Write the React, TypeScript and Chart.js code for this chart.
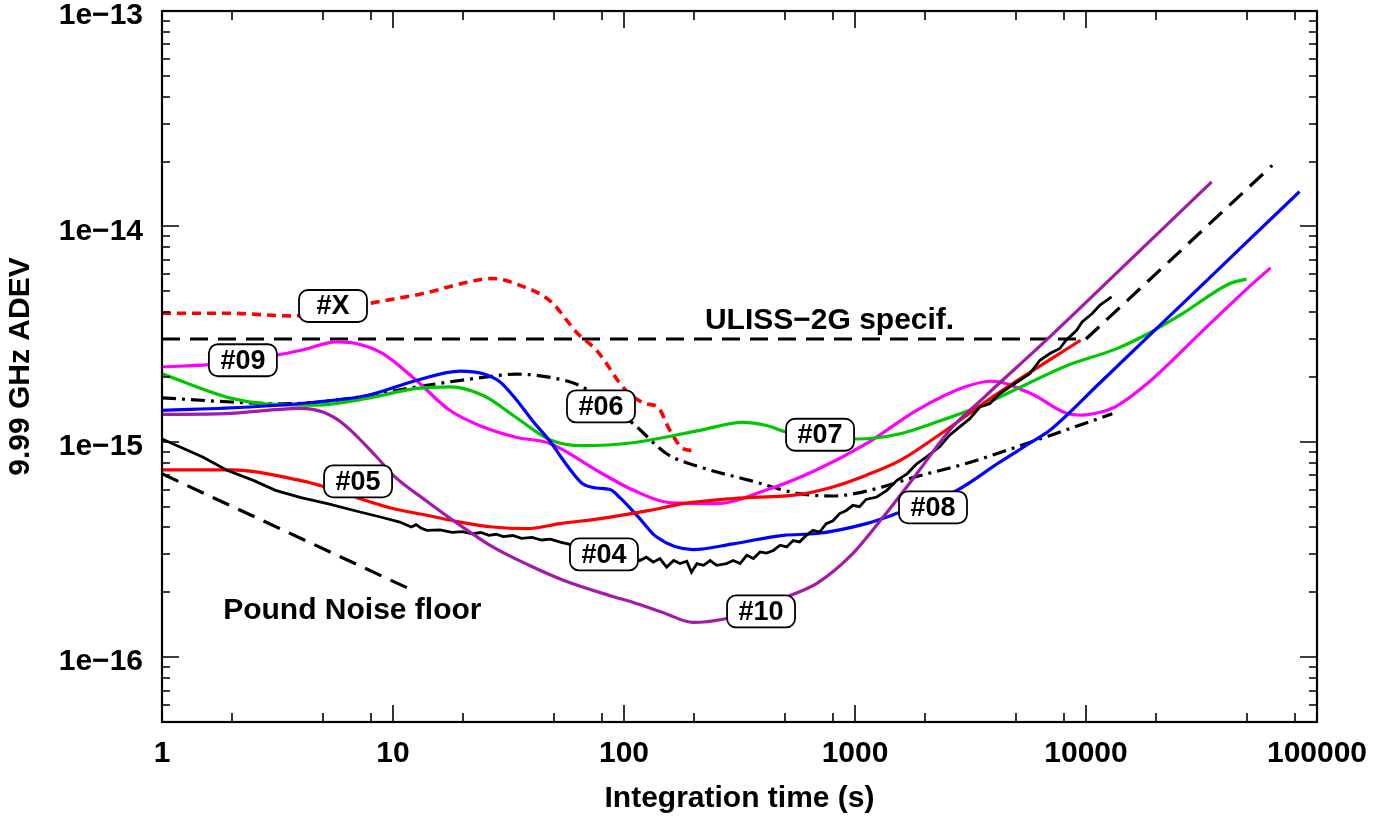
import React, { useEffect, useRef } from 'react';
import { Chart, registerables } from 'chart.js';
Chart.register(...registerables);

const FONT = '"Liberation Sans", Arial, Helvetica, sans-serif';

// axes
const xTickValues = [1, 10, 100, 1000, 10000, 100000];
const xTickLabels = ['1', '10', '100', '1000', '10000', '100000'];
const yTickValues = [1e-16, 1e-15, 1e-14, 1e-13];
const yTickLabels = ['1e\u221216', '1e\u221215', '1e\u221214', '1e\u221213'];
const xMinorMultipliers = [2, 5, 8];
const yMinorMultipliers = [2, 3, 4, 5, 6, 7, 8, 9];
const xTitle = 'Integration time (s)';
const yTitle = '9.99 GHz ADEV';

// ULISS-2G specification
const tauSpec = [1, 10000, 64000];
const adevSpec = [3e-15, 3e-15, 1.92e-14];

// Pound noise floor
const tauPound = [1, 11.5];
const adevPound = [7.1e-16, 2.1e-16];

// #X (red dotted)
const tauX = [1, 2, 3.6, 5.5, 7.9, 14, 20, 27, 35, 48, 63, 76, 102, 125, 140, 158, 180, 200];
const adevX = [3.95e-15, 3.95e-15, 3.84e-15, 4.05e-15, 4.39e-15, 4.92e-15, 5.44e-15, 5.73e-15, 5.35e-15, 4.5e-15, 3.18e-15, 2.66e-15, 1.73e-15, 1.5e-15, 1.45e-15, 1.13e-15, 9.3e-16, 9.1e-16];

// #09 (magenta)
const tau09 = [1, 1.6, 3.1, 4, 5.7, 7, 9, 12.6, 17.6, 24.6, 34, 48, 79, 110, 160, 250, 410, 680, 1120, 1850, 3000, 3900, 5800, 8200, 9600, 11500, 13500, 18800, 31000, 50800, 63000];
const adev09 = [2.23e-15, 2.28e-15, 2.52e-15, 2.66e-15, 2.91e-15, 2.85e-15, 2.57e-15, 1.93e-15, 1.4e-15, 1.17e-15, 1.05e-15, 9.8e-16, 7.2e-16, 5.95e-16, 5.2e-16, 5.16e-16, 5.95e-16, 7.4e-16, 9.8e-16, 1.4e-15, 1.8e-15, 1.91e-15, 1.67e-15, 1.36e-15, 1.33e-15, 1.37e-15, 1.46e-15, 1.9e-15, 3.17e-15, 5.24e-15, 6.42e-15];

// #07 (green)
const tau07 = [1, 2, 2.8, 4.7, 7.7, 12.7, 17.7, 24.6, 34, 48, 66, 109, 213, 326, 414, 506, 1020, 1570, 2180, 3400, 4850, 8200, 13500, 18800, 26200, 42000, 49500];
const adev07 = [2.07e-15, 1.59e-15, 1.5e-15, 1.48e-15, 1.59e-15, 1.77e-15, 1.8e-15, 1.64e-15, 1.3e-15, 1.02e-15, 9.6e-16, 9.9e-16, 1.13e-15, 1.23e-15, 1.19e-15, 1.11e-15, 1.03e-15, 1.09e-15, 1.22e-15, 1.45e-15, 1.73e-15, 2.25e-15, 2.7e-15, 3.2e-15, 3.94e-15, 5.43e-15, 5.69e-15];

// #08 (blue)
const tau08 = [1, 2.4, 4.7, 7.7, 12.7, 19.5, 24.6, 29, 34, 40, 48, 56, 66, 76, 87, 96, 117, 138, 199, 297, 490, 684, 1120, 1510, 2760, 4200, 5840, 6970, 11500, 26200, 50800, 84000];
const adev08 = [1.4e-15, 1.45e-15, 1.53e-15, 1.64e-15, 1.93e-15, 2.13e-15, 2.07e-15, 1.9e-15, 1.58e-15, 1.26e-15, 1.0e-15, 7.9e-16, 6.4e-16, 6.1e-16, 6.0e-16, 5.5e-16, 4.4e-16, 3.62e-16, 3.16e-16, 3.36e-16, 3.68e-16, 3.75e-16, 4.17e-16, 4.64e-16, 5.95e-16, 8.0e-16, 1.0e-15, 1.13e-15, 1.88e-15, 4.38e-15, 8.65e-15, 1.45e-14];

// #05 (red)
const tau05 = [1, 2, 4, 5, 7, 10, 14, 19.5, 27, 38, 53, 79, 129, 181, 297, 575, 800, 1120, 1570, 2180, 4230, 9470];
const adev05 = [7.4e-16, 7.4e-16, 6.6e-16, 6.2e-16, 5.5e-16, 4.9e-16, 4.56e-16, 4.24e-16, 4.02e-16, 3.95e-16, 4.17e-16, 4.4e-16, 4.8e-16, 5.16e-16, 5.45e-16, 5.7e-16, 6.17e-16, 7.0e-16, 8.2e-16, 1.03e-15, 1.7e-15, 2.96e-15];

// #06 (black dash-dot)
const tau06 = [1, 2, 3.3, 6.5, 12.7, 24.6, 34, 48, 66, 80, 109, 153, 213, 350, 575, 800, 1120, 1850, 3000, 4230, 7000, 13000];
const adev06 = [1.6e-15, 1.53e-15, 1.5e-15, 1.59e-15, 1.8e-15, 1.99e-15, 2.06e-15, 1.99e-15, 1.8e-15, 1.55e-15, 1.22e-15, 8.8e-16, 7.64e-16, 6.62e-16, 5.74e-16, 5.6e-16, 5.9e-16, 6.9e-16, 7.9e-16, 8.9e-16, 1.07e-15, 1.35e-15];

// #10 (purple)
const tau10 = [1, 1.9, 3.1, 4, 5, 6.1, 8.5, 10, 14, 19.5, 27, 38, 55, 87, 109, 150, 199, 268, 400, 505, 684, 955, 1330, 1850, 2600, 3600, 6970, 16000, 35000];
const adev10 = [1.34e-15, 1.35e-15, 1.41e-15, 1.43e-15, 1.37e-15, 1.21e-15, 8.5e-16, 7.0e-16, 5.3e-16, 4.1e-16, 3.25e-16, 2.7e-16, 2.27e-16, 1.93e-16, 1.8e-16, 1.6e-16, 1.45e-16, 1.5e-16, 1.7e-16, 1.9e-16, 2.2e-16, 2.95e-16, 4.5e-16, 7.1e-16, 1.15e-15, 1.6e-15, 3.07e-15, 7.2e-15, 1.61e-14];

// #04 (black, noisy)
const tau04 = [1, 1.5, 1.9, 2.5, 3.1, 4, 5.2, 7.2, 9, 10.7, 12, 12.6, 13.2, 14, 16, 18, 20, 22, 24, 26, 28, 30, 33, 36, 40, 44, 48, 53, 57, 70, 90, 113, 117, 125, 134, 143, 153, 164, 175, 187, 196, 207, 221, 236, 252, 278, 297, 318, 340, 363, 388, 414, 443, 474, 506, 540, 576, 616, 658, 703, 751, 803, 858, 917, 979, 1046, 1117, 1243, 1374, 1520, 1680, 1850, 2040, 2330, 2560, 2830, 3140, 3470, 3830, 4230, 4680, 5170, 5710, 6320, 6980, 7700, 8200, 9110, 9620, 10640, 11500, 12900];
const adev04 = [1.03e-15, 8.5e-16, 7.4e-16, 6.6e-16, 5.95e-16, 5.5e-16, 5.16e-16, 4.72e-16, 4.45e-16, 4.24e-16, 4.02e-16, 4.12e-16, 3.98e-16, 3.88e-16, 3.9e-16, 3.8e-16, 3.83e-16, 3.74e-16, 3.79e-16, 3.68e-16, 3.72e-16, 3.63e-16, 3.67e-16, 3.56e-16, 3.6e-16, 3.5e-16, 3.53e-16, 3.42e-16, 3.36e-16, 3.2e-16, 3.0e-16, 2.88e-16, 2.81e-16, 2.91e-16, 2.76e-16, 2.87e-16, 2.62e-16, 2.81e-16, 2.72e-16, 2.79e-16, 2.48e-16, 2.72e-16, 2.67e-16, 2.81e-16, 2.67e-16, 2.72e-16, 2.81e-16, 2.72e-16, 2.97e-16, 2.87e-16, 3.08e-16, 3.04e-16, 3.13e-16, 3.31e-16, 3.25e-16, 3.48e-16, 3.43e-16, 3.68e-16, 3.88e-16, 3.81e-16, 4.17e-16, 4.3e-16, 4.64e-16, 4.8e-16, 5.07e-16, 5.0e-16, 5.4e-16, 5.54e-16, 5.95e-16, 6.62e-16, 7.1e-16, 7.9e-16, 8.5e-16, 9.5e-16, 1.07e-15, 1.17e-15, 1.28e-15, 1.45e-15, 1.5e-15, 1.67e-15, 1.8e-15, 1.93e-15, 2.07e-15, 2.39e-15, 2.57e-15, 2.71e-15, 2.96e-15, 3.29e-15, 3.6e-15, 3.94e-15, 4.31e-15, 4.71e-15];

// boxed curve labels (positions in data coordinates)
const labelNames = ['#X', '#09', '#05', '#06', '#07', '#04', '#10', '#08'];
const labelTau = [5.5, 2.24, 7.06, 79.5, 706, 81.9, 392, 2176];
const labelAdev = [4.27e-15, 2.39e-15, 6.55e-16, 1.46e-15, 1.078e-15, 3.0e-16, 1.63e-16, 4.96e-16];

// free text annotations (left / baseline in data coordinates)
const noteTexts = ['ULISS\u22122G specif.', 'Pound Noise floor'];
const noteTau = [224, 1.84];
const noteAdev = [3.33e-15, 1.51e-16];

function series(tau: number[], adev: number[], color: string, extra: any = {}) {
  return {
    data: tau.map((t, i) => ({ x: t, y: adev[i] })),
    borderColor: color,
    backgroundColor: color,
    borderWidth: 3.2,
    pointRadius: 0,
    showLine: true,
    fill: false,
    cubicInterpolationMode: 'monotone',
    ...extra,
  };
}

const decorations = {
  id: 'decorations',
  afterDatasetsDraw(chart: any) {
    const { ctx, chartArea: a } = chart;
    const xs = chart.scales.x;
    const ys = chart.scales.y;
    ctx.save();
    ctx.strokeStyle = '#000';
    ctx.lineWidth = 1.6;
    ctx.beginPath();
    for (let e = 0; e <= 5; e++) {
      const base = Math.pow(10, e);
      for (const m of [1, ...xMinorMultipliers]) {
        const v = base * m;
        if (v < xs.min || v > xs.max) continue;
        const px = Math.round(xs.getPixelForValue(v));
        const len = m === 1 ? 17 : 9;
        ctx.moveTo(px, a.bottom);
        ctx.lineTo(px, a.bottom - len);
        ctx.moveTo(px, a.top);
        ctx.lineTo(px, a.top + len);
      }
    }
    for (let e = -17; e <= -13; e++) {
      const base = Math.pow(10, e);
      for (const m of [1, ...yMinorMultipliers]) {
        const v = base * m;
        if (v < ys.min * 0.999 || v > ys.max * 1.001) continue;
        const py = Math.round(ys.getPixelForValue(v));
        const len = m === 1 ? 17 : 8;
        ctx.moveTo(a.left, py);
        ctx.lineTo(a.left + len, py);
        ctx.moveTo(a.right, py);
        ctx.lineTo(a.right - len, py);
      }
    }
    ctx.stroke();
    ctx.lineWidth = 2.2;
    ctx.strokeRect(a.left, a.top, a.right - a.left, a.bottom - a.top);

    // boxed labels
    ctx.font = `bold 27px ${FONT}`;
    ctx.textAlign = 'center';
    ctx.textBaseline = 'middle';
    labelNames.forEach((name, i) => {
      const cx = xs.getPixelForValue(labelTau[i]);
      const cy = ys.getPixelForValue(labelAdev[i]);
      const w = 68, h = 32, r = 9;
      const x0 = cx - w / 2, y0 = cy - h / 2;
      ctx.beginPath();
      ctx.moveTo(x0 + r, y0);
      ctx.lineTo(x0 + w - r, y0);
      ctx.arcTo(x0 + w, y0, x0 + w, y0 + r, r);
      ctx.lineTo(x0 + w, y0 + h - r);
      ctx.arcTo(x0 + w, y0 + h, x0 + w - r, y0 + h, r);
      ctx.lineTo(x0 + r, y0 + h);
      ctx.arcTo(x0, y0 + h, x0, y0 + h - r, r);
      ctx.lineTo(x0, y0 + r);
      ctx.arcTo(x0, y0, x0 + r, y0, r);
      ctx.closePath();
      ctx.fillStyle = '#fff';
      ctx.fill();
      ctx.lineWidth = 1.8;
      ctx.strokeStyle = '#000';
      ctx.stroke();
      ctx.fillStyle = '#000';
      ctx.fillText(name, cx, cy + 1);
    });

    // free annotations
    ctx.font = `bold 30px ${FONT}`;
    ctx.textAlign = 'left';
    ctx.textBaseline = 'alphabetic';
    ctx.fillStyle = '#000';
    noteTexts.forEach((t, i) => {
      ctx.fillText(t, xs.getPixelForValue(noteTau[i]), ys.getPixelForValue(noteAdev[i]));
    });
    ctx.restore();
  },
};

export default function App() {
  const ref = useRef<HTMLCanvasElement>(null);
  useEffect(() => {
    const tickFont = { family: FONT, size: 30, weight: 'bold' as const };
    const datasets: any[] = [
      series(tau10, adev10, '#a41aa8'),
      series(tau04, adev04, '#000000', { cubicInterpolationMode: 'default', tension: 0, borderWidth: 2.8 }),
      series(tau05, adev05, '#ff0000'),
      series(tau08, adev08, '#0000ff'),
      series(tau07, adev07, '#00c800'),
      series(tau09, adev09, '#ff00ff'),
      series(tau06, adev06, '#000000', { borderDash: [14, 6, 3, 6], borderWidth: 3.2 }),
      series(tauX, adevX, '#ff0000', { borderDash: [9, 6], borderWidth: 3.6 }),
      series(tauSpec, adevSpec, '#000000', { borderDash: [18, 10], cubicInterpolationMode: 'default', tension: 0 }),
      series(tauPound, adevPound, '#000000', { borderDash: [18, 10], cubicInterpolationMode: 'default', tension: 0 }),
    ];
    const chart = new Chart(ref.current as HTMLCanvasElement, {
      type: 'scatter',
      data: { datasets },
      options: {
        responsive: false,
        animation: false,
        devicePixelRatio: 1,
        layout: { padding: { top: 11, right: 81, left: 0, bottom: 0 } },
        plugins: { legend: { display: false }, tooltip: { enabled: false } },
        scales: {
          x: {
            type: 'logarithmic',
            position: 'bottom',
            min: 1,
            max: 100000,
            grid: { display: false, drawTicks: false },
            border: { display: false },
            afterBuildTicks: (s: any) => {
              s.ticks = xTickValues.map((v) => ({ value: v }));
            },
            afterFit: (s: any) => {
              s.height = 96;
              s.paddingLeft = 0;
              s.paddingRight = 0;
            },
            ticks: {
              font: tickFont,
              color: '#000',
              padding: 14,
              maxRotation: 0,
              autoSkip: false,
              callback: (v: any) => xTickLabels[xTickValues.indexOf(Number(v))] ?? '',
            },
            title: { display: true, text: xTitle, font: tickFont, color: '#000', padding: { top: 0, bottom: 1 } },
          },
          y: {
            type: 'logarithmic',
            position: 'left',
            min: 5e-17,
            max: 1e-13,
            grid: { display: false, drawTicks: false },
            border: { display: false },
            afterBuildTicks: (s: any) => {
              s.ticks = yTickValues.map((v) => ({ value: v }));
            },
            afterFit: (s: any) => {
              s.width = 162;
              s.paddingTop = 0;
              s.paddingBottom = 0;
            },
            ticks: {
              font: tickFont,
              color: '#000',
              padding: 19,
              labelOffset: 5,
              autoSkip: false,
              callback: (v: any) => {
                const idx = yTickValues.findIndex((t) => Math.abs(t - Number(v)) / t < 1e-6);
                return idx >= 0 ? yTickLabels[idx] : '';
              },
            },
            title: { display: true, text: yTitle, font: tickFont, color: '#000', padding: { top: 3, bottom: 0 } },
          },
        },
      } as any,
      plugins: [decorations],
    });
    return () => chart.destroy();
  }, []);
  return (
    <div style={{ position: 'fixed', left: 0, top: 0, width: 1398, height: 818, background: '#fff' }}>
      <canvas ref={ref} width={1398} height={818} style={{ display: 'block' }} />
    </div>
  );
}
